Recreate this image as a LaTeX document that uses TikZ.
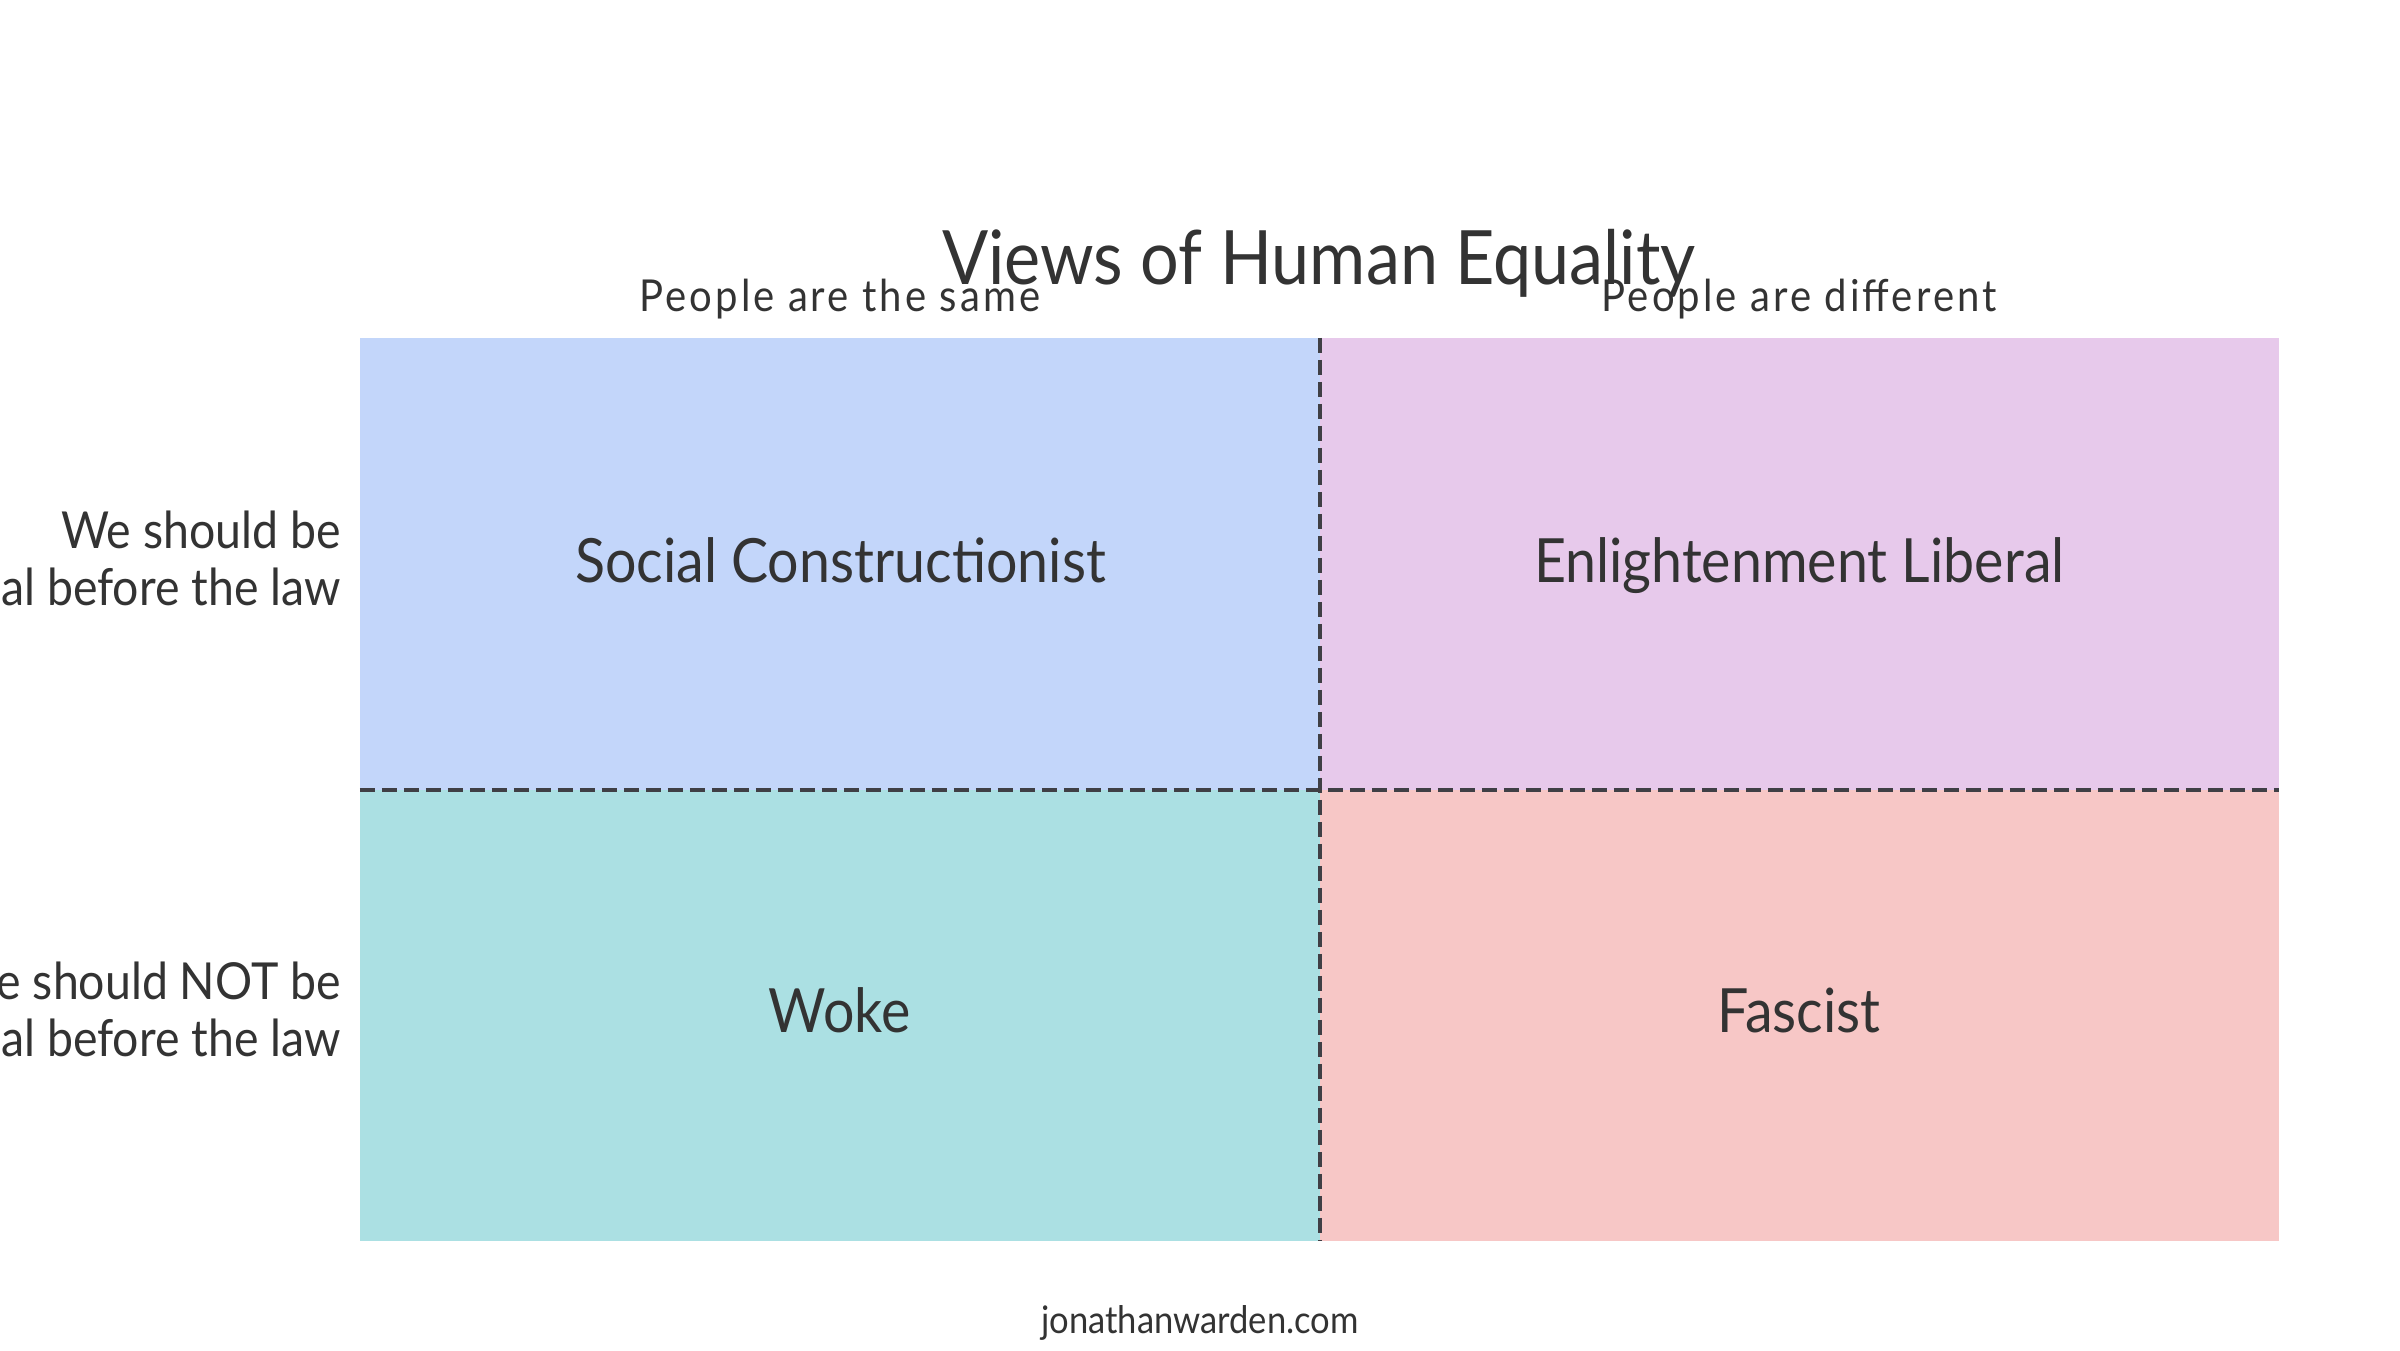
\documentclass[tikz,border=0pt]{standalone}
\usepackage{fontspec}
\setmainfont{Lato}[FakeStretch=0.91]
\newfontfamily\spacedfont{Lato}[FakeStretch=0.91,LetterSpace=7]
\definecolor{qblue}{HTML}{C3D6FA}
\definecolor{qpurple}{HTML}{E7C9EB}
\definecolor{qteal}{HTML}{ABE0E3}
\definecolor{qpink}{HTML}{F7C7C6}
\definecolor{ink}{HTML}{333333}
\definecolor{divcol}{HTML}{3F3F45}
\begin{document}
\begin{tikzpicture}[x=1pt,y=-1pt,
  quad/.style={draw=none,inner sep=0pt,minimum width=959.5pt,minimum height=451.5pt},
  qlabel/.style={text=ink,inner sep=0pt,anchor=base,font=\fontsize{61}{70}\selectfont},
  header/.style={text=ink,inner sep=0pt,anchor=base,font=\spacedfont\fontsize{44}{50}\selectfont},
  rowlabel/.style={text=ink,inner sep=0pt,anchor=base east,align=right,font=\fontsize{51}{57}\selectfont},
  divider/.style={draw=divcol,line width=4pt,dash pattern=on 15pt off 7pt}]
\useasboundingbox (0,0) rectangle (2400,1350);
\fill[white] (0,0) rectangle (2400,1350);
% quadrants
\node[quad,fill=qblue]   (q1) at (839.75,563.75)  {};
\node[quad,fill=qpurple] (q2) at (1799.25,563.75) {};
\node[quad,fill=qteal]   (q3) at (839.75,1015.25) {};
\node[quad,fill=qpink]   (q4) at (1799.25,1015.25){};
% dividers
\draw[divider] (q1.north east) -- (q3.south east);
\draw[divider] (q1.south west) -- (q2.south east);
% quadrant labels
\node[qlabel] (l1) at (840.5,582) {Social Constructionist};
\node[qlabel] (l2) at (1799.25,582) {Enlightenment Liberal};
\node[qlabel] (l3) at (839.75,1032) {Woke};
\node[qlabel] (l4) at (1799.25,1032) {Fascist};
% title and headers
\node[text=ink,inner sep=0pt,anchor=base,font=\fontsize{75}{86}\selectfont] (title) at (1319,284) {Views of Human Equality};
\node[header] (h1) at (839.75,311) {People are the same};
\node[header] (h2) at (1799.25,311) {People are different};
% row labels
\node[rowlabel] (r1) at (341,605) {We should be\\equal before the law};
\node[rowlabel] (r2) at (341,1056) {We should NOT be\\equal before the law};
% footer
\node[text=ink,inner sep=0pt,anchor=base,font=\fontsize{38}{44}\selectfont] (foot) at (1200,1333) {jonathanwarden.com};
\end{tikzpicture}
\end{document}
